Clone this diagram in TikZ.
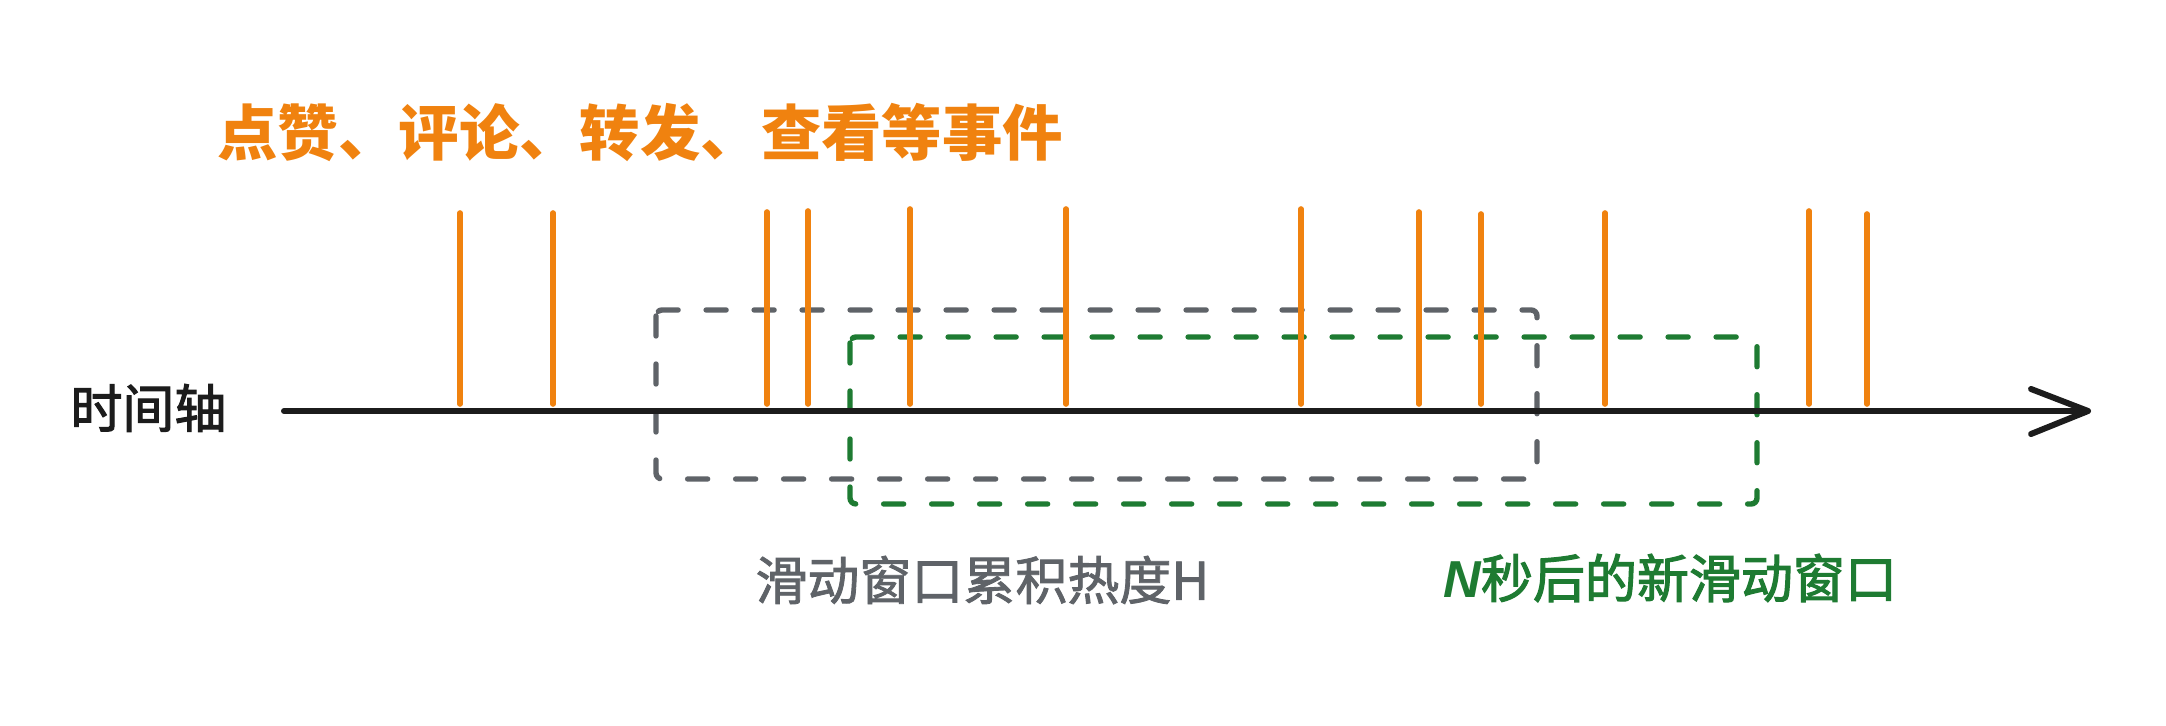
\documentclass[tikz,border=0pt]{standalone}
\usepackage{fontspec}
\setmainfont{Noto Sans CJK SC}
\newfontfamily\cjkmed{Noto Sans CJK SC}[FakeBold=1.6]
\newfontfamily\cjkmedb{Noto Sans CJK SC}[FakeBold=2.2]
\newfontfamily\latinN{Liberation Sans}
\definecolor{evorange}{HTML}{F0820F}
\definecolor{wingray}{HTML}{5F6368}
\definecolor{wingreen}{HTML}{1E7B32}
\definecolor{axisblack}{HTML}{1C1C1C}
\tikzset{
  eventline/.style={draw=evorange, line width=2.8pt, line cap=round},
  axisline/.style={draw=axisblack, line width=3pt, line cap=round, line join=round},
  graywin/.style={draw=wingray, line width=2.7pt, line cap=round, dash pattern=on 10pt off 14pt, rounded corners=3pt},
  greenwin/.style={draw=wingreen, line width=2.7pt, line cap=round, dash pattern=on 10pt off 14pt, rounded corners=3pt},
  lbl/.style={inner sep=0pt, anchor=west, font=\fontsize{26pt}{30pt}\cjkmed},
}
\begin{document}
\begin{tikzpicture}[x=0.5pt, y=-0.5pt]
\useasboundingbox[fill=white] (0,0) rectangle (2166,726);

% title
\node[lbl, text=evorange, font=\fontsize{30.2pt}{34pt}\selectfont\bfseries] (title) at (217,132) {点赞、评论、转发、查看等事件};

% axis label
\node[lbl, text=axisblack, font=\fontsize{26pt}{30pt}\cjkmedb] (axlabel) at (70,408) {时间轴};

% windows
\draw[graywin] (656,310) rectangle (1537,479);
\draw[greenwin] (850,337) rectangle (1757,504);

% event lines
\foreach \x/\t in {460/213, 553/213, 767/212, 808/211, 910/209, 1066/209, 1301/209, 1419/212, 1481/214, 1605/213, 1809/211, 1867/214}
  \draw[eventline] (\x,\t) -- (\x,404);

% axis
\coordinate (axs) at (284,411);
\coordinate (axe) at (2088,411);
\coordinate (arrA) at (2031,389);
\coordinate (arrB) at (2031,434);
\draw[axisline] (axs) -- (axe);
\draw[axisline] (arrA) -- (axe) -- (arrB);

% window labels
\node[lbl, text=wingray] (graylabel) at (755,580) {滑动窗口累积热度H};
\node[lbl, text=wingreen, font=\fontsize{26pt}{30pt}\cjkmedb] (greenlabel) at (1443,578) {{\latinN\bfseries\itshape N}秒后的新滑动窗口};
\end{tikzpicture}
\end{document}
